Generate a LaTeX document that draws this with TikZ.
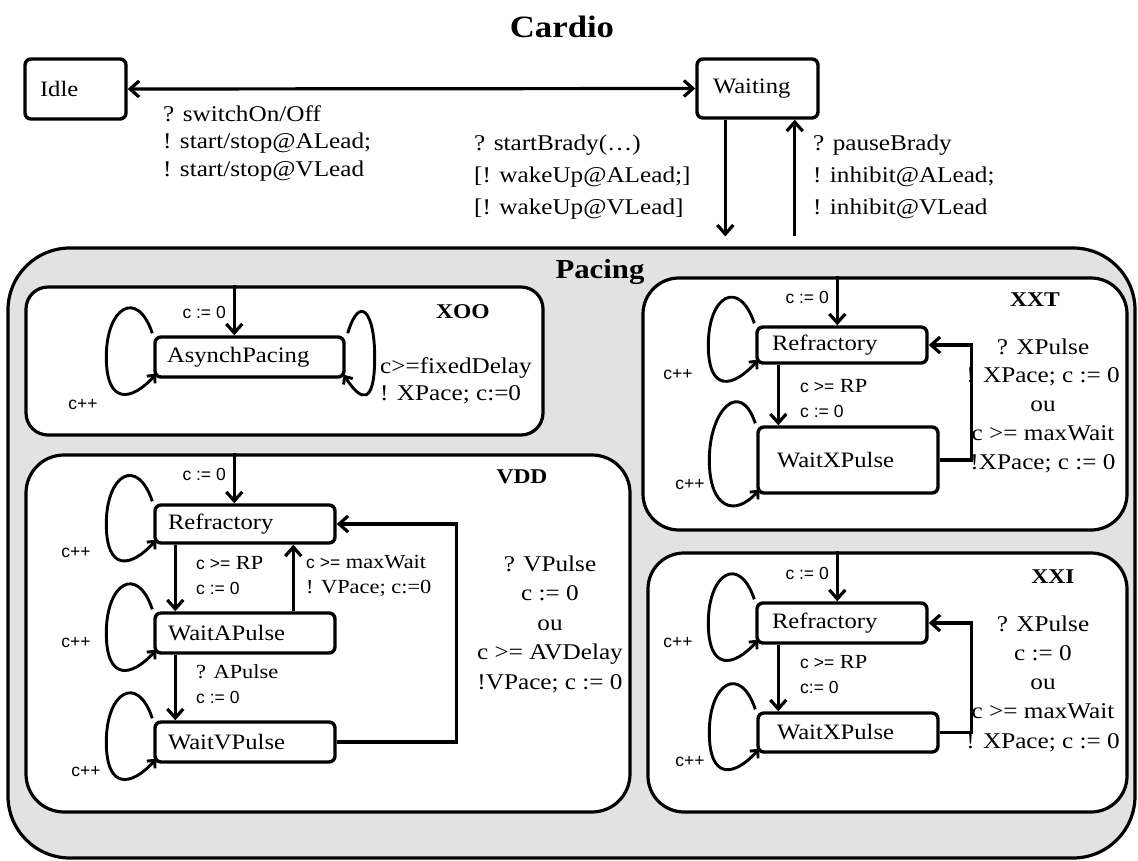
\documentclass[tikz,border=0pt]{standalone}
\usepackage{fontspec}
\setmainfont{Liberation Serif}[FakeStretch=1.12]
\setsansfont{Liberation Sans}
\usetikzlibrary{arrows.meta,calc}
\definecolor{pacebg}{RGB}{226,226,226}
\newcommand\stfont{\fontsize{22}{26}\selectfont}
\newcommand\smfont{\fontsize{20}{25}\selectfont}
\newcommand\ssf[1]{{\sffamily\fontsize{17.5}{25}\selectfont #1}}
\newcommand\lleft[1]{\draw[lp] ([shift={(-1,-2)}]#1.north west) .. controls +(-15,-45) and +(0,-50) .. ([shift={(-47,0)}]#1.west) .. controls +(0,48) and +(-25,28) .. ([shift={(3,-5)}]#1.south west);}
\newcommand\lright[1]{\draw[lp] ([shift={(2,-2)}]#1.north east) .. controls +(12,-40) and +(0,-45) .. ([shift={(29,0)}]#1.east) .. controls +(0,48) and +(18,28) .. ([shift={(-2,-4)}]#1.south east);}
\begin{document}
\begin{tikzpicture}[x=1pt,y=-1pt,
  every node/.style={inner sep=0pt},
  cont/.style={draw, line width=3.2pt, fill=white},
  st/.style={draw, line width=3.4pt, rounded corners=6pt, fill=white, align=left, font=\stfont},
  arr/.style={line width=3.2pt, -{Straight Barb[length=9pt,width=16pt]}},
  darr/.style={line width=3.2pt, {Straight Barb[length=9pt,width=16pt]}-{Straight Barb[length=9pt,width=16pt]}},
  lp/.style={line width=2.9pt, -{Straight Barb[length=6pt,width=11pt]}},
  cpp/.style={font=\sffamily\fontsize{17.5}{20}\selectfont},
  sm/.style={font=\smfont, align=left},
  ttl/.style={font=\bfseries\fontsize{21}{21}\selectfont},
]
\useasboundingbox (0,0) rectangle (1138,861);

% title
\node[font=\bfseries\fontsize{31}{31}\selectfont] (title) at (562,27) {Cardio};

% top states
\node[st, minimum width=101pt, minimum height=60pt, text width=71pt] (idle) at (75.5,89) {Idle};
\node[st, minimum width=121pt, minimum height=59pt, text width=89pt] (waiting) at (757.5,88.5) {Waiting};

% containers
\node[cont, fill=pacebg, rounded corners=62pt, minimum width=1127pt, minimum height=610pt] (pacing) at (571.5,553) {};
\node[font=\bfseries\fontsize{27.5}{28}\selectfont] (pacl) at (600,272) {Pacing};
\node[cont, rounded corners=22pt, minimum width=517pt, minimum height=148pt] (xoo) at (284.5,361) {};
\node[cont, rounded corners=38pt, minimum width=604pt, minimum height=357pt] (vdd) at (328,633.5) {};
\node[cont, rounded corners=36pt, minimum width=484pt, minimum height=252pt] (xxt) at (885,404) {};
\node[cont, rounded corners=36pt, minimum width=479pt, minimum height=259pt] (xxi) at (887.5,682.5) {};

% top connectors
\draw[darr] (idle.east) -- (waiting.west);
\coordinate (wd) at ([xshift=30pt]waiting.south west);
\coordinate (wu) at ([xshift=-25pt]waiting.south east);
\draw[arr, shorten >=10pt] (wd) -- (wd |- pacing.north);
\draw[arr, shorten <=10pt] (wu |- pacing.north) -- (wu);

\node[font=\fontsize{22.5}{27.5}\selectfont, align=left, anchor=west] (l1) at (163,143)
  {? switchOn/Off\\! start/stop@ALead;\\! start/stop@VLead};
\node[font=\fontsize{22.5}{32}\selectfont, align=left, anchor=west] (l2) at (474,177)
  {? startBrady(…)\\{}[! wakeUp@ALead;]\\{}[! wakeUp@VLead]};
\node[font=\fontsize{22.5}{32}\selectfont, align=left, anchor=west] (l3) at (813,177)
  {? pauseBrady\\! inhibit@ALead;\\! inhibit@VLead};

% XOO
\node[ttl] (xool) at (463,312) {XOO};
\node[st, minimum width=189pt, minimum height=40pt, text width=165pt] (asy) at (249.5,357) {AsynchPacing};
\coordinate (xe) at ([xshift=81pt]asy.north west);
\draw[arr] (xe |- xoo.north) -- (xe);
\node[cpp, anchor=east] (xc) at (226,312) {c := 0};
\lleft{asy}
\lright{asy}
\node[cpp] (xcpp) at (83,405) {c++};
\node[font=\fontsize{22.5}{27}\selectfont, align=left, anchor=west] (xl) at (380,381)
  {c>=fixedDelay\\! XPace; c:=0};

% VDD
\node[ttl] (vddl) at (522,477) {VDD};
\node[st, minimum width=180pt, minimum height=38pt, text width=154pt] (vref) at (245,524) {Refractory};
\node[st, minimum width=180pt, minimum height=40pt, text width=154pt] (vwa) at (245,633) {WaitAPulse};
\node[st, minimum width=180pt, minimum height=40pt, text width=154pt] (vwv) at (245,742) {WaitVPulse};
\coordinate (ve) at ([xshift=81pt]vref.north west);
\draw[arr] (ve |- vdd.north) -- (ve);
\node[cpp, anchor=east] (vc) at (226,474) {c := 0};
\draw[arr] ([xshift=22pt]vref.south west) -- ([xshift=22pt]vwa.north west);
\draw[arr] ([xshift=140pt]vwa.north west) -- ([xshift=140pt]vref.south west);
\draw[arr] ([xshift=22pt]vwa.south west) -- ([xshift=22pt]vwv.north west);
\draw[arr] (vwv.east) -- ++(120,0) |- (vref.east);
\lleft{vref}
\lleft{vwa}
\lleft{vwv}
\node[cpp] (vcpp1) at (76,553) {c++};
\node[cpp] (vcpp2) at (76,643) {c++};
\node[cpp] (vcpp3) at (86,772) {c++};
\node[sm, anchor=west] (vl1) at (196,575.5) {\ssf{c >=} RP\\\ssf{c := 0}};
\node[sm, anchor=west] (vl2) at (306,575.5) {\ssf{c >=} maxWait\\! VPace; c:=0};
\node[sm, anchor=west] (vl3) at (196,684.5) {? APulse\\\ssf{c := 0}};
\node[font=\fontsize{22.5}{29.5}\selectfont, align=center] (vl4) at (550,624)
  {? VPulse\\c := 0\\ou\\c >= AVDelay\\!VPace; c := 0};

% XXT
\node[ttl] (xxtl) at (1035,300) {XXT};
\node[st, minimum width=170pt, minimum height=36pt, text width=140pt] (tref) at (842,345) {Refractory};
\node[st, minimum width=180pt, minimum height=66pt, text width=142pt] (twx) at (848,460) {WaitXPulse};
\coordinate (te) at ([xshift=82pt]tref.north west);
\draw[arr] (te |- xxt.north) -- (te);
\node[cpp, anchor=east] (tc) at (829,297) {c := 0};
\draw[arr] ([xshift=23pt]tref.south west) -- ([xshift=22pt]twx.north west);
\draw[arr] (twx.east) -- ++(32,0) |- (tref.east);
\lleft{tref}
\lleft{twx}
\node[cpp] (tcpp1) at (678,375) {c++};
\node[cpp] (tcpp2) at (690,485) {c++};
\node[sm, anchor=west] (tl1) at (800,399) {\ssf{c >=} RP\\\ssf{c := 0}};
\node[font=\fontsize{22.5}{28.75}\selectfont, align=center] (tl2) at (1043,405.5)
  {? XPulse\\! XPace; c := 0\\ou\\c >= maxWait\\!XPace; c := 0};

% XXI
\node[ttl] (xxil) at (1053,577) {XXI};
\node[st, minimum width=170pt, minimum height=40pt, text width=140pt] (iref) at (842,623) {Refractory};
\node[st, minimum width=180pt, minimum height=39pt, text width=142pt] (iwx) at (848,732.5) {WaitXPulse};
\coordinate (ie) at ([xshift=82pt]iref.north west);
\draw[arr] (ie |- xxi.north) -- (ie);
\node[cpp, anchor=east] (ic) at (829,573) {c := 0};
\draw[arr] ([xshift=23pt]iref.south west) -- ([xshift=22pt]iwx.north west);
\draw[arr] (iwx.east) -- ++(32,0) |- (iref.east);
\lleft{iref}
\lleft{iwx}
\node[cpp] (icpp1) at (678,643) {c++};
\node[cpp] (icpp2) at (690,762) {c++};
\node[sm, anchor=west] (il1) at (800,675) {\ssf{c >=} RP\\\ssf{c:= 0}};
\node[font=\fontsize{22.5}{29.25}\selectfont, align=center] (il2) at (1043,683.5)
  {? XPulse\\c := 0\\ou\\c >= maxWait\\! XPace; c := 0};
\end{tikzpicture}
\end{document}
